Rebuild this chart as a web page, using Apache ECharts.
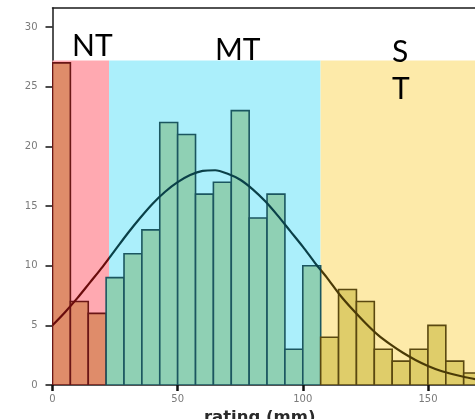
<!DOCTYPE html>
<html>
<head>
<meta charset="utf-8">
<script src="https://cdn.jsdelivr.net/npm/echarts@6/dist/echarts.min.js"></script>
<style>html,body{margin:0;padding:0;background:#fff}#c{width:475px;height:419px}</style>
</head>
<body>
<div id="c"></div>
<script>
// ---- data ----
const binWidth = 50 / 7;               // histogram bin width (mm)
const counts = [27, 7, 6, 9, 11, 13, 22, 21, 16, 17, 23, 14, 16, 3, 10, 4, 8, 7, 3, 2, 3, 5, 2, 1];
const zoneNames = ['NT', 'MT', 'S\nT'];
const zoneEdges = [0, 22.6, 107.1, 168.8]; // rating boundaries of shaded zones
const zoneTop = 27.2;
const zoneBinEnd = [3, 15, 24];          // bins belonging to each zone
const curveX = [0, 5, 10, 15, 20, 25, 30, 35, 40, 45, 50, 55, 60, 65, 70, 75, 80, 85, 90, 95, 100, 105, 110, 115, 120, 125, 130, 135, 140, 145, 150, 155, 160, 165, 170];
const curveY = [5.0, 6.1, 7.3, 8.6, 9.9, 11.3, 12.7, 14.0, 15.2, 16.2, 17.0, 17.6, 17.95, 18.0, 17.7, 17.2, 16.4, 15.4, 14.2, 12.9, 11.6, 10.2, 8.9, 7.5, 6.3, 5.2, 4.2, 3.4, 2.7, 2.1, 1.6, 1.2, 0.9, 0.65, 0.45];
const xTicks = [0, 50, 100, 150];
const yTicks = [0, 5, 10, 15, 20, 25, 30];

// ---- styles ----
const zoneBg = ['#ffa9b1', '#abeffb', '#fdeaa9'];
const barFill = ['#df8c6a', '#8fd0b4', '#dfcd6a'];
const barStroke = ['#6a1616', '#1b5660', '#5a4810'];
const curveCol = ['#6a0c0c', '#0a4048', '#4a3a06'];

function zoneOf(i) { for (let z = 0; z < zoneBinEnd.length; z++) if (i < zoneBinEnd[z]) return z; return zoneBinEnd.length - 1; }

const chart = echarts.init(document.getElementById('c'), null, {renderer: 'canvas'});
const gray = '#7a7a7a';
const axisCol = '#1a1a1a';
chart.setOption({
  animation: false,
  grid: {left: 52.5, top: 8, right: 0, bottom: 34, containLabel: false, outerBoundsMode: 'none'},
  xAxis: [{
    type: 'value', min: 0, max: 168.8,
    name: 'rating (mm)', nameLocation: 'middle', nameGap: 18,
    nameTextStyle: {fontFamily: 'DejaVu Sans', fontWeight: 'bold', fontSize: 16.5, color: '#2a2a2a', padding: [0, 8, 0, 0]},
    axisLine: {lineStyle: {color: axisCol, width: 1.5}},
    axisTick: {customValues: xTicks, length: 6, lineStyle: {color: '#111', width: 2.5}},
    axisLabel: {customValues: xTicks, margin: 9, color: gray, fontSize: 10, fontFamily: 'DejaVu Sans'},
    splitLine: {show: false}
  }, {
    type: 'value', min: 0, max: 168.8, position: 'top',
    axisLine: {show: true, lineStyle: {color: axisCol, width: 1.5}},
    axisTick: {show: false}, axisLabel: {show: false}, splitLine: {show: false}
  }],
  yAxis: {
    type: 'value', min: 0, max: 31.6,
    axisLine: {show: true, lineStyle: {color: axisCol, width: 1.5}},
    axisTick: {show: true, customValues: yTicks, length: 7, lineStyle: {color: '#111', width: 1.5}},
    axisLabel: {customValues: yTicks, margin: 15, color: gray, fontSize: 10, fontFamily: 'DejaVu Sans'},
    splitLine: {show: false}
  },
  visualMap: {
    show: false, type: 'piecewise', dimension: 0, seriesIndex: 2,
    pieces: [
      {lt: zoneEdges[1], color: curveCol[0]},
      {gte: zoneEdges[1], lt: zoneEdges[2], color: curveCol[1]},
      {gte: zoneEdges[2], color: curveCol[2]}
    ]
  },
  series: [
    {
      type: 'line', data: [], z: 1, silent: true,
      markArea: {
        silent: true,
        data: zoneNames.map((n, z) => [
          {xAxis: zoneEdges[z], yAxis: 0, itemStyle: {color: zoneBg[z]}},
          {xAxis: zoneEdges[z + 1], yAxis: zoneTop}
        ])
      }
    },
    {
      type: 'custom', z: 2, clip: true,
      data: counts.map((c, i) => [i, c]),
      renderItem: function (params, api) {
        const i = api.value(0), h = api.value(1);
        const p0 = api.coord([i * binWidth, h]);
        const p1 = api.coord([(i + 1) * binWidth, 0]);
        const z = zoneOf(i);
        return {
          type: 'rect',
          shape: {x: p0[0], y: p0[1], width: p1[0] - p0[0], height: p1[1] - p0[1]},
          style: {fill: barFill[z], stroke: barStroke[z], lineWidth: 1.6}
        };
      }
    },
    {
      type: 'line', z: 3, smooth: 0.3, symbol: 'none', clip: true,
      data: curveX.map((x, i) => [x, curveY[i]]),
      lineStyle: {width: 2.2}
    }
  ],
  graphic: [
    {type: 'text', left: 72, top: 31, z: 50, style: {text: zoneNames[0], font: '30px Lato', fill: '#000'}},
    {type: 'text', left: 215, top: 35, z: 50, style: {text: zoneNames[1], font: '30px Lato', fill: '#000'}},
    {type: 'text', left: 392, top: 34, z: 50, style: {text: zoneNames[2], font: '30px Lato', fill: '#000', lineHeight: 37}}
  ]
});
</script>
</body>
</html>
